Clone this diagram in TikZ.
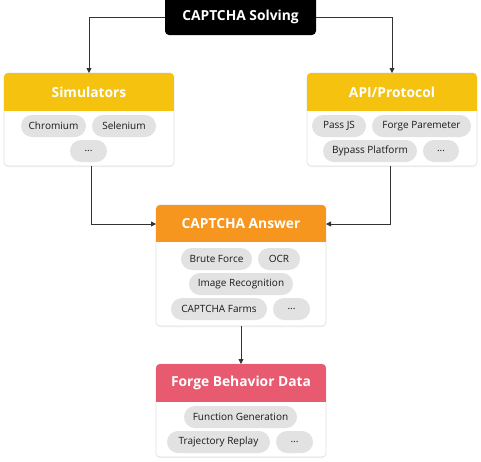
\documentclass[tikz,border=0pt]{standalone}
\usepackage{fontspec}
\setmainfont{Open Sans}
\usetikzlibrary{arrows.meta,shadows}
\definecolor{hyellow}{HTML}{F5C30F}
\definecolor{horange}{HTML}{F7961E}
\definecolor{hred}{HTML}{E85A70}
\definecolor{pillgray}{HTML}{E2E2E2}
\definecolor{linegray}{HTML}{333333}
\tikzset{
  card/.style={draw=black!12, fill=white, rounded corners=4pt, line width=0.6pt,
    drop shadow={opacity=0.12, shadow xshift=0pt, shadow yshift=-1pt}},
  headtext/.style={text=white, font=\fontsize{13.8}{15}\selectfont\bfseries},
  pill/.style={fill=pillgray, rounded corners=11pt, minimum height=22pt, inner sep=0pt,
    font=\fontsize{10}{11}\selectfont, text=black!90},
  conn/.style={draw=linegray, line width=0.8pt, -{Triangle[length=5pt,width=5pt]}},
}
\newcommand{\mycard}[7]{% name, x1,y1,x2,y2, header bottom y, color
  \path[card] (#2,#3) rectangle (#4,#5);
  \begin{scope}
    \clip[rounded corners=4pt] (#2,#3) rectangle (#4,#5);
    \fill[#7] (#2,#3) rectangle (#4,#6);
  \end{scope}
  \coordinate (#1) at ({(#2+#4)/2},{(#3+#6)/2});
  \coordinate (#1-nw) at (#2,#3);
  \coordinate (#1-se) at (#4,#5);
}
\begin{document}
\begin{tikzpicture}[x=1pt,y=-1pt]
\useasboundingbox (0,0) rectangle (481,461);

% top node
\node[fill=black, rounded corners=4pt, minimum width=151pt, minimum height=39pt, inner sep=0pt] (solve) at (240.5,15.5) {};
\node[headtext] (solvet) at (240.5,17) {CAPTCHA Solving};

% Simulators
\mycard{sim}{4}{73}{174}{166}{111}{hyellow}
\node[headtext] (simt) at (89,92) {Simulators};
\node[pill, minimum width=65pt] (p1) at (53.5,126) {Chromium};
\node[pill, minimum width=64pt] (p2) at (124,126) {Selenium};
\node[pill, minimum width=37pt] (p3) at (88.5,151) {...};

% API
\mycard{api}{307}{73}{477}{166}{111}{hyellow}
\node[headtext] (apit) at (392,92) {API/Protocol};
\node[pill, minimum width=54pt] (a1) at (339,126) {Pass JS};
\node[pill, minimum width=99pt] (a2) at (421.5,126) {Forge Paremeter};
\node[pill, minimum width=94pt] (a3) at (370,151) {Bypass Platform};
\node[pill, minimum width=36pt] (a4) at (441,151) {...};

% Answer
\mycard{ans}{156}{205}{326}{326}{242}{horange}
\node[headtext] (anst) at (241,224) {CAPTCHA Answer};
\node[pill, minimum width=71pt] (c1) at (216.5,259) {Brute Force};
\node[pill, minimum width=42pt] (c2) at (279,259) {OCR};
\node[pill, minimum width=104pt] (c3) at (241,284) {Image Recognition};
\node[pill, minimum width=96pt] (c4) at (219,309) {CAPTCHA Farms};
\node[pill, minimum width=37pt] (c5) at (291.5,309) {...};

% Forge
\mycard{fb}{156}{364}{326}{457}{402}{hred}
\node[headtext] (fbt) at (241,383) {Forge Behavior Data};
\node[pill, minimum width=113pt] (f1) at (240.5,417) {Function Generation};
\node[pill, minimum width=103pt] (f2) at (218.5,442) {Trajectory Replay};
\node[pill, minimum width=37pt] (f3) at (294.5,442) {...};

% connectors
\coordinate (simtop) at (89,73);
\coordinate (apitop) at (392,73);
\coordinate (simbot) at (91,166);
\coordinate (apibot) at (390,166);
\coordinate (ansl) at (156,224);
\coordinate (ansr) at (326,224);
\coordinate (ansbot) at (241,326);
\coordinate (fbtop) at (241,364);
\draw[conn] (solve.west |- solvet) -| (simtop);
\draw[conn] (solve.east |- solvet) -| (apitop);
\draw[conn] (simbot) |- (ansl);
\draw[conn] (apibot) |- (ansr);
\draw[conn] (ansbot) -- (fbtop);
\end{tikzpicture}
\end{document}
